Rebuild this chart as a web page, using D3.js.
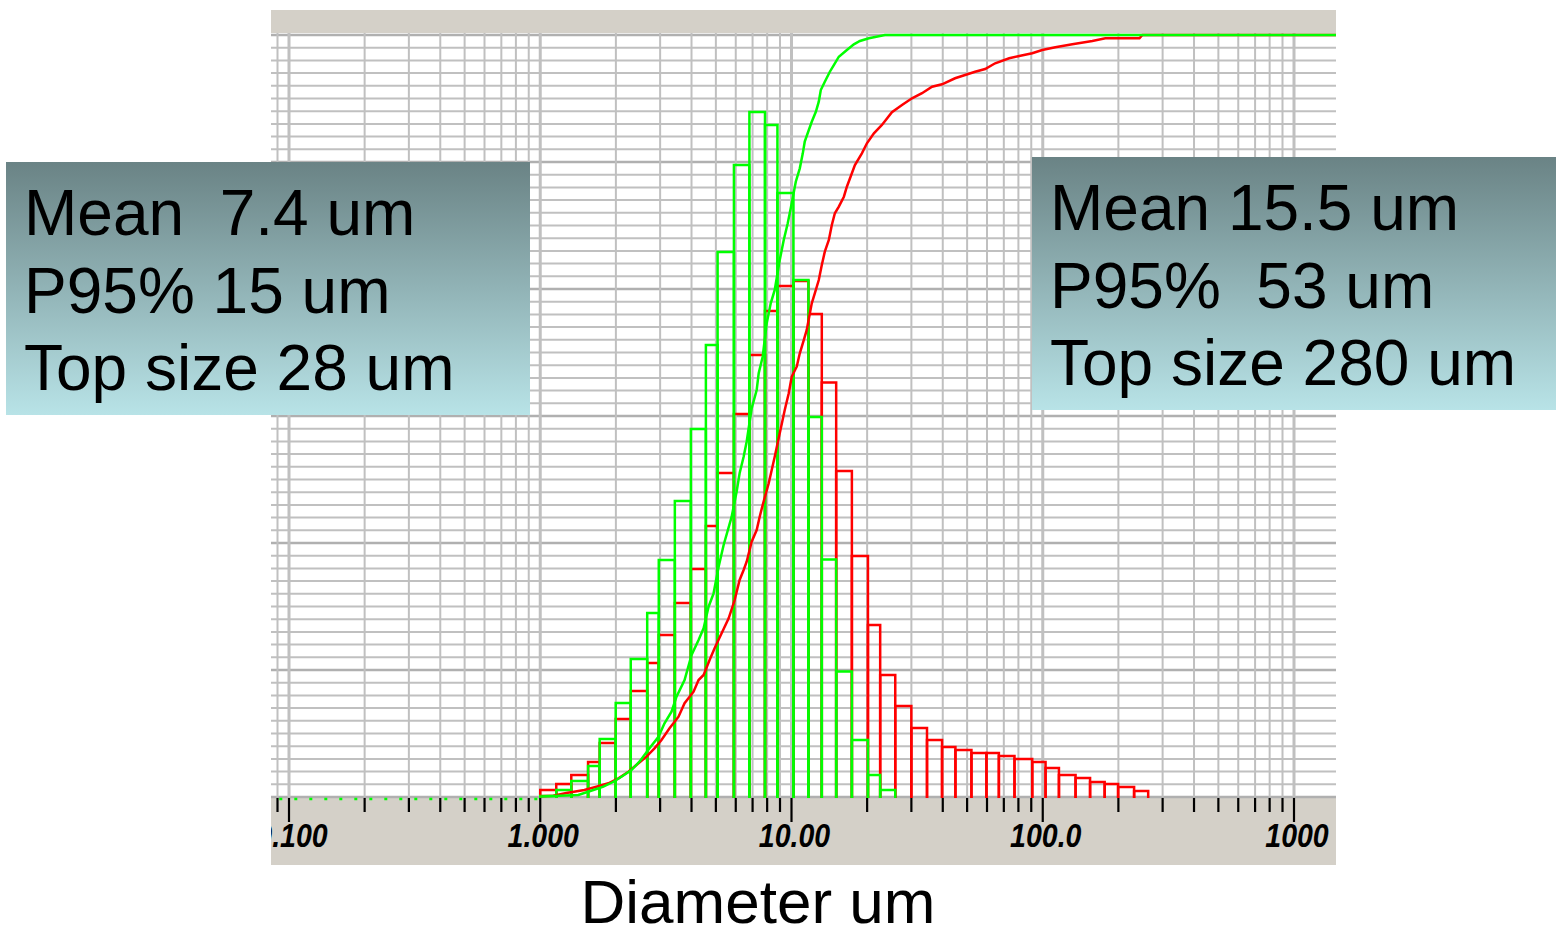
<!DOCTYPE html>
<meta charset="utf-8">
<style>
body{
  margin: 0;
  background: #fff;
}
.box_text{
  font-family: "Liberation Sans", Arial, sans-serif;
  font-size: 64px;
  white-space: pre;
  fill: #000;
}
.tick_label{
  font-family: "Liberation Sans", Arial, sans-serif;
  font-size: 30px;
  font-weight: bold;
  font-style: italic;
  fill: #000;
}
</style>

<script src="https://d3js.org/d3.v7.min.js"></script>

<svg id="chart"></svg>

<script>
// bin edges of the size classes, in um
var bin_edges = [1.00, 1.158, 1.329, 1.550, 1.724, 1.997, 2.292, 2.665, 2.963, 3.433,
  3.976, 4.563, 5.080, 5.900, 6.799, 7.844, 8.790, 10.18, 11.68, 13.20,
  15.06, 17.39, 20.15, 22.54, 25.88, 29.99, 34.62, 39.74, 44.92, 52.02,
  59.69, 66.89, 77.19, 90.82, 102.6, 116.0, 135.1, 154.3, 176.4, 199.5,
  231.0, 262.8]

// frequency per class (as % of the full axis height)
var red_freq = [0.92, 1.71, 2.89, 4.59, 7.09, 10.24, 13.91, 17.59, 21.26, 25.46,
  29.92, 35.56, 42.52, 50.26, 58.01, 63.78, 67.06, 67.72, 63.39, 54.4,
  42.78, 31.63, 22.57, 16.01, 11.94, 9.06, 7.48, 6.56, 6.17, 5.77,
  5.77, 5.38, 4.99, 4.59, 3.81, 2.89, 2.49, 1.97, 1.71, 1.31, 0.79]
var green_freq = [0.13, 0.92, 2.10, 4.07, 7.61, 12.34, 18.11, 24.15, 31.10, 38.85,
  48.29, 59.32, 71.52, 82.94, 89.90, 88.19, 79.27, 67.85, 49.87, 31.17,
  16.48, 7.48, 2.89, 0.92]

// cumulative curves: diameter (um) and cumulative %
var green_cum_d = [1.0, 1.418, 1.627, 1.784, 1.955, 2.104, 2.306, 2.482, 2.721, 2.955,
  3.123, 3.330, 3.486, 3.753, 4.002, 4.267, 4.468, 4.677, 4.897, 5.128,
  5.369, 5.776, 6.047, 6.216, 6.449, 6.630, 6.942, 7.268, 7.403, 7.679,
  7.967, 8.266, 8.575, 8.978, 9.314, 9.661, 9.931, 10.40, 10.79, 11.09,
  11.29, 11.72, 12.04, 12.50, 12.84, 13.08, 13.57, 14.21, 14.74, 15.43,
  16.61, 17.71, 18.72, 20.33, 23.54, 1500]
var green_cum_p = [0.07, 0.26, 0.92, 1.35, 2.0, 2.66, 3.54, 4.63, 6.39, 7.91,
  9.67, 11.19, 13.16, 15.35, 18.64, 20.6, 22.14, 24.97, 26.73, 30.22,
  33.07, 36.75, 40.07, 42.48, 44.66, 46.63, 51.0, 53.41, 55.6, 57.78,
  62.17, 64.79, 66.54, 70.47, 73.1, 75.29, 77.26, 80.75, 82.5, 84.47,
  86.0, 87.53, 88.62, 89.93, 91.25, 92.78, 93.87, 95.18, 96.06, 97.15,
  98.03, 98.78, 99.21, 99.57, 100, 100]

var red_cum_d = [1.0, 1.127, 1.270, 1.498, 1.673, 1.867, 2.047, 2.244, 2.459, 2.647,
  2.849, 3.038, 3.270, 3.551, 3.753, 4.076, 4.267, 4.468, 4.721, 4.942,
  5.271, 5.622, 5.940, 6.216, 6.449, 6.630, 6.942, 7.268, 7.471, 7.679,
  8.116, 8.342, 8.575, 8.978, 9.400, 9.750, 10.02, 10.49, 10.79, 11.19,
  11.50, 12.04, 12.38, 12.84, 13.20, 13.57, 14.08, 14.47, 14.88, 15.43,
  16.16, 16.61, 17.39, 17.88, 19.06, 19.96, 21.28, 22.90, 25.10, 27.53,
  30.17, 33.07, 36.26, 39.74, 44.77, 49.08, 53.8, 58.97, 64.65, 73.5,
  80.6, 90.8, 99.5, 112.2, 131.1, 157.5, 177.5, 242.6, 249.3, 1500]
var red_cum_p = [0.1, 0.17, 0.52, 0.92, 1.35, 1.8, 2.45, 3.32, 4.42, 5.29,
  6.39, 7.48, 9.02, 10.54, 12.3, 13.82, 15.35, 16.01, 17.98, 19.51,
  21.48, 23.45, 25.85, 28.48, 29.79, 30.88, 33.5, 35.04, 36.78, 38.32,
  41.17, 42.91, 44.66, 47.73, 50.79, 52.98, 55.16, 56.47, 58.23, 59.97,
  61.29, 64.79, 66.1, 67.85, 69.82, 71.56, 73.1, 75.07, 76.6, 77.47,
  78.78, 80.09, 81.85, 82.94, 84.47, 85.79, 87.1, 88.19, 89.86, 90.81,
  91.69, 92.36, 93.22, 93.53, 94.32, 94.75, 95.18, 95.54, 96.29, 96.94,
  97.24, 97.6, 98.03, 98.39, 98.78, 99.21, 99.57, 99.57, 100, 100]

// axis labels
var label_values = [0.1, 1, 10, 100, 1000]
var label_texts = ["0.100", "1.000", "10.00", "100.0", "1000"]

// info boxes
var left_lines = ["Mean  7.4 um", "P95% 15 um", "Top size 28 um"]
var right_lines = ["Mean 15.5 um", "P95%  53 um", "Top size 280 um"]

// layout
var svg_width = 1556, svg_height = 937
var frame = {left: 271, right: 1336, top: 10, bottom: 865}
var plot_top = 35, plot_bottom = 797

var svg = d3.select("#chart")
  .attr("width", svg_width)
  .attr("height", svg_height)

var x = d3.scaleLog().domain([0.1, 1000]).range([289, 1294])
var y = d3.scaleLinear().domain([0, 100]).range([plot_bottom, plot_top])

var defs = svg.append("defs")
defs.append("clipPath").attr("id", "frame_clip")
  .append("rect")
  .attr("x", frame.left).attr("y", frame.top)
  .attr("width", frame.right - frame.left)
  .attr("height", frame.bottom - frame.top)

var grad = defs.append("linearGradient").attr("id", "box_grad")
  .attr("x1", 0).attr("y1", 0).attr("x2", 0).attr("y2", 1)
grad.append("stop").attr("offset", "0%").attr("stop-color", "#6a8385")
grad.append("stop").attr("offset", "100%").attr("stop-color", "#b8e3e7")

var g = svg.append("g").attr("clip-path", "url(#frame_clip)")

// gray frame + white plot area
g.append("rect")
  .attr("x", frame.left).attr("y", frame.top)
  .attr("width", frame.right - frame.left)
  .attr("height", frame.bottom - frame.top)
  .attr("fill", "#d4d0c8")
g.append("rect")
  .attr("x", frame.left).attr("y", 33)
  .attr("width", frame.right - frame.left)
  .attr("height", plot_bottom - 33)
  .attr("fill", "#fff")

// log positions 1..9 per decade
var log_ticks = [0.09]
for (var e = -1; e <= 2; e++) {
  for (var m = 1; m <= 9; m++) log_ticks.push(m * Math.pow(10, e))
}
log_ticks.push(1000)

// horizontal grid
var h_lines = d3.range(0, 61)
g.append("g").selectAll("line")
  .data(h_lines)
  .enter().append("line")
    .attr("x1", frame.left).attr("x2", frame.right)
    .attr("y1", function(d){ return y(d * 100 / 60) })
    .attr("y2", function(d){ return y(d * 100 / 60) })
    .attr("stroke", function(d){ return d % 10 == 0 ? "#b0b0b0" : "#c0c0c0" })
    .attr("stroke-width", function(d){ return d % 10 == 0 ? 2.5 : 2 })

// vertical grid
g.append("g").selectAll("line")
  .data(log_ticks)
  .enter().append("line")
    .attr("x1", function(d){ return x(d) }).attr("x2", function(d){ return x(d) })
    .attr("y1", 33).attr("y2", plot_bottom)
    .attr("stroke", "#c0c0c0")
    .attr("stroke-width", function(d){ return label_values.indexOf(d) >= 0 ? 3 : 2 })

// redraw the top band over the grid
g.append("rect")
  .attr("x", frame.left).attr("y", frame.top)
  .attr("width", frame.right - frame.left)
  .attr("height", 33 - frame.top)
  .attr("fill", "#d4d0c8")

// bottom tick marks
g.append("g").selectAll("line")
  .data(log_ticks)
  .enter().append("line")
    .attr("x1", function(d){ return x(d) }).attr("x2", function(d){ return x(d) })
    .attr("y1", plot_bottom + 1)
    .attr("y2", function(d){ return label_values.indexOf(d) >= 0 ? 822 : 812 })
    .attr("stroke", "#000")
    .attr("stroke-width", 2.2)

// tick labels (slightly narrow and tall, like the original bitmap font)
g.append("g").selectAll("text")
  .data(label_values)
  .enter().append("text")
    .attr("class", "tick_label")
    .attr("transform", function(d){ return "translate(" + (x(d) + 3) + ",847) scale(0.95,1.12)" })
    .attr("text-anchor", "middle")
    .text(function(d, i){ return label_texts[i] })

// histogram outlines
function barPath(freq, i) {
  var x0 = x(bin_edges[i]), x1 = x(bin_edges[i + 1])
  var top = y(freq), base = plot_bottom + 1
  return "M" + x0 + "," + base + "V" + top + "H" + x1 + "V" + base
}

function drawBars(freq, color) {
  g.append("g").selectAll("path")
    .data(freq)
    .enter().append("path")
      .attr("d", function(d, i){ return barPath(d, i) })
      .attr("fill", "none")
      .attr("stroke", color)
      .attr("stroke-width", 2.5)
}
drawBars(red_freq, "#ff0000")
drawBars(green_freq, "#00ff00")

// cumulative curves
function drawCum(ds, ps, color) {
  var pts = ds.map(function(d, i){ return [d, ps[i]] })
  var line = d3.line()
    .x(function(d){ return x(d[0]) })
    .y(function(d){ return y(d[1]) })
  g.append("path")
    .datum(pts)
    .attr("d", line)
    .attr("fill", "none")
    .attr("stroke", color)
    .attr("stroke-width", 2.5)
}
drawCum(red_cum_d, red_cum_p, "#ff0000")

// zero part of the green cumulative, drawn as dots
g.append("line")
  .attr("x1", x(0.0915)).attr("x2", x(1.0))
  .attr("y1", y(0) + 2).attr("y2", y(0) + 2)
  .attr("stroke", "#00ff00")
  .attr("stroke-width", 2.5)
  .attr("stroke-dasharray", "3,12")
drawCum(green_cum_d, green_cum_p, "#00ff00")

// info boxes
function addBox(bx, by, lines, tx, baselines) {
  svg.append("rect")
    .attr("x", bx).attr("y", by)
    .attr("width", 524).attr("height", 253)
    .attr("fill", "url(#box_grad)")
  svg.append("g").selectAll("text")
    .data(lines)
    .enter().append("text")
      .attr("class", "box_text")
      .attr("x", tx)
      .attr("y", function(d, i){ return baselines[i] })
      .text(function(d){ return d })
}
addBox(6, 162, left_lines, 24, [235, 313, 390])
addBox(1032, 157, right_lines, 1050, [230, 308, 385])

// x axis title
svg.append("text")
  .attr("class", "box_text")
  .attr("x", 758)
  .attr("y", 923)
  .attr("text-anchor", "middle")
  .style("font-size", "62px")
  .text("Diameter um")
</script>
